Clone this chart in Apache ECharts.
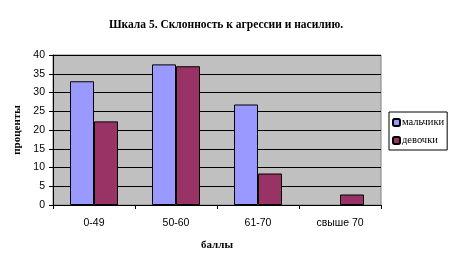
<!DOCTYPE html>
<html><head><meta charset="utf-8">
<script src="https://cdn.jsdelivr.net/npm/echarts@6/dist/echarts.min.js"></script>
<style>html,body{margin:0;padding:0;background:#fff}#c{width:452px;height:267px}</style>
</head><body><div id="c"></div>
<script>
var categories = ['0-49', '50-60', '61-70', 'свыше 70'];
var boys = [33, 37.5, 26.8, 0];
var girls = [22.3, 37, 8.4, 2.8];
var seriesNames = ['мальчики', 'девочки'];
var yTicks = {min: 0, max: 40, interval: 5};

function toItems(arr) {
  return arr.map(function (v) {
    return v === 0 ? {value: v, itemStyle: {borderWidth: 0}} : v;
  });
}

var chart = echarts.init(document.getElementById('c'), null, {renderer: 'canvas'});
chart.setOption({
  animation: false,
  backgroundColor: '#fff',
  title: {
    text: 'Шкала 5. Склонность к агрессии и насилию.',
    left: 'center', top: 14,
    textStyle: {fontFamily: 'Liberation Serif', fontWeight: 'bold', fontSize: 11.5, color: '#000'}
  },
  legend: {
    orient: 'vertical', left: 389, top: 112,
    padding: [5, 3, 4, 3],
    itemGap: 7,
    itemWidth: 7, itemHeight: 7,
    borderColor: '#000', borderWidth: 1,
    textStyle: {fontFamily: 'Liberation Serif', fontSize: 10.5, color: '#000', padding: [0, 0, 0, -3]},
    data: seriesNames
  },
  grid: {
    left: 53, top: 55, width: 328, height: 150,
    show: true, backgroundColor: '#c0c0c0', borderColor: '#808080', borderWidth: 1
  },
  xAxis: {
    type: 'category', data: categories,
    name: 'баллы', nameLocation: 'middle', nameGap: 35,
    nameTextStyle: {fontFamily: 'Liberation Serif', fontWeight: 'bold', fontSize: 11, color: '#000'},
    axisLine: {lineStyle: {color: '#000'}},
    axisTick: {show: true, length: 4, lineStyle: {color: '#000'}},
    axisLabel: {fontFamily: 'Liberation Sans', fontSize: 10.5, color: '#000', margin: 13}
  },
  yAxis: {
    type: 'value', min: yTicks.min, max: yTicks.max, interval: yTicks.interval,
    name: 'проценты', nameLocation: 'middle', nameGap: 25, nameRotate: 90,
    nameTextStyle: {fontFamily: 'Liberation Serif', fontWeight: 'bold', fontSize: 11, color: '#000'},
    axisLine: {show: true, lineStyle: {color: '#000'}},
    axisTick: {show: true, length: 4, lineStyle: {color: '#000'}},
    axisLabel: {fontFamily: 'Liberation Sans', fontSize: 10.5, color: '#000', margin: 8},
    splitLine: {show: true, lineStyle: {color: '#000', width: 1}}
  },
  series: [
    {name: seriesNames[0], type: 'bar', data: toItems(boys), barGap: '0%', barWidth: 24,
     itemStyle: {color: '#9999ff', borderColor: '#000', borderWidth: 1}},
    {name: seriesNames[1], type: 'bar', data: toItems(girls), barGap: '0%', barWidth: 24,
     itemStyle: {color: '#993366', borderColor: '#000', borderWidth: 1}}
  ]
});
</script></body></html>
